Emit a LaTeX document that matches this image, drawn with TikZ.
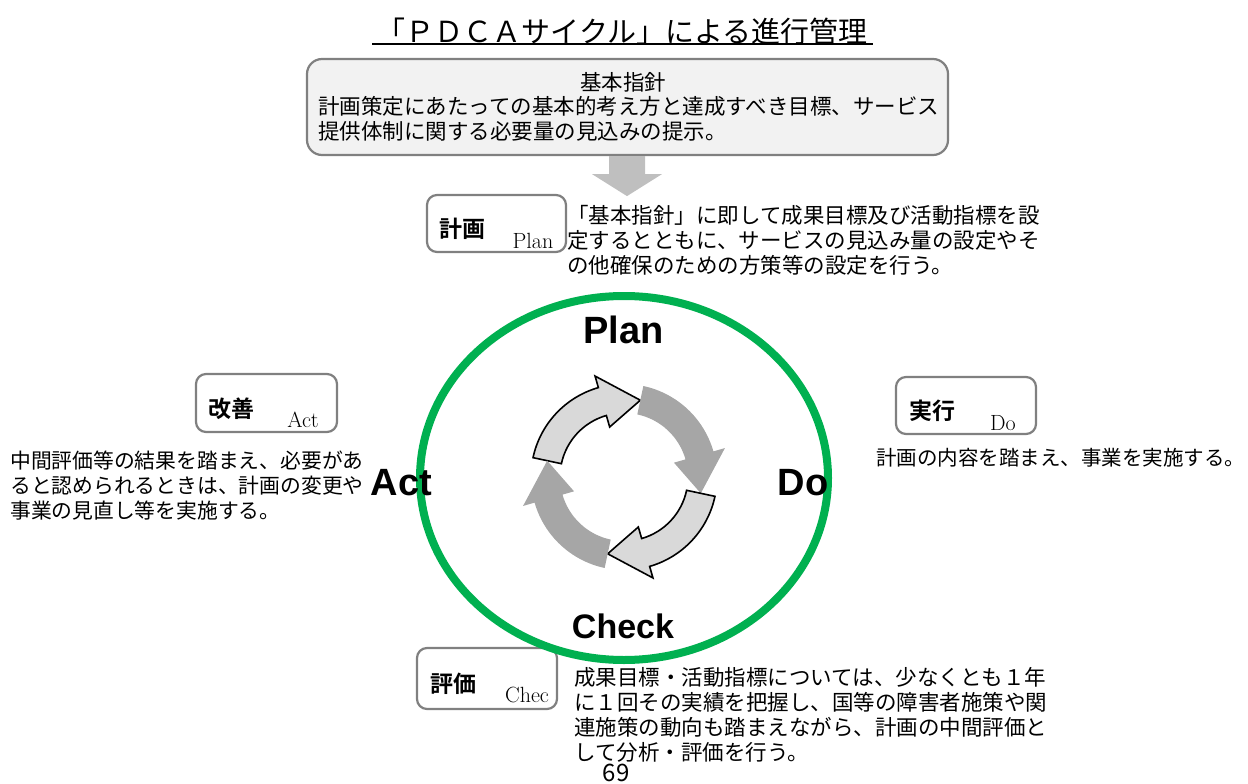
\documentclass[tikz,border=0pt]{standalone}
\usepackage{fontspec}
\newfontfamily\jp{Noto Sans CJK JP}[BoldFont={Noto Sans CJK JP Bold}]
\newfontfamily\lab{Liberation Sans}
\usetikzlibrary{calc}
\definecolor{boxgray}{HTML}{808080}
\definecolor{topfill}{HTML}{F2F2F2}
\definecolor{arrowg}{HTML}{BFBFBF}
\definecolor{lightg}{HTML}{D9D9D9}
\definecolor{darkg}{HTML}{A6A6A6}
\definecolor{pdcagreen}{HTML}{00B050}
\newcommand\cycarrow[2]{%
  \path[#2] ($(cc)+(#1:93pt)$) arc[start angle=#1, end angle={#1-62}, radius=93pt]
    -- ($(cc)+({#1-62}:105pt)$) -- ($(cc)+({#1-90}:78.5pt)$)
    -- ($(cc)+({#1-62}:52pt)$) -- ($(cc)+({#1-62}:64pt)$)
    arc[start angle={#1-62}, end angle=#1, radius=64pt] -- cycle;}
\begin{document}
\begin{tikzpicture}[x=1pt,y=1pt,
  box/.style={draw=boxgray, line width=2.2pt, rounded corners=10pt, fill=white, inner sep=0pt},
  desc/.style={font=\jp\fontsize{21.5}{25}\selectfont, align=left, inner sep=0pt, anchor=north west},
  line/.style={font=\jp\fontsize{21.5}{25}\selectfont, inner sep=0pt},
  big/.style={font=\lab\bfseries\fontsize{38}{38}\selectfont, inner sep=0pt, anchor=base},
  kan/.style={font=\jp\bfseries\fontsize{23}{23}\selectfont, inner sep=0pt},
  en/.style={font=\rmfamily\fontsize{22}{22}\selectfont, inner sep=0pt, anchor=base},
  light/.style={fill=lightg, draw=black, line width=1.6pt, line join=miter},
  dark/.style={fill=darkg}
]
\useasboundingbox (0,0) rectangle (1248,-784);

% title
\node[font=\jp\fontsize{29}{29}\selectfont, inner sep=0pt] (title) at (622,-31) {「ＰＤＣＡサイクル」による進行管理};
\draw[line width=2pt] (372,-44) coordinate (ul1) -- (873,-44) coordinate (ul2);

% top box
\node[box, fill=topfill, rounded corners=15pt, minimum width=641pt, minimum height=96pt] (top) at (627.5,-107) {};
\node[line] (toph) at (623,-82) {基本指針};
\node[desc] (topt) at (318,-96) {計画策定にあたっての基本的考え方と達成すべき目標、サービス\\提供体制に関する必要量の見込みの提示。};

% down arrow
\fill[arrowg] ($(top.south)+(-18.5,0)$) -- ($(top.south)+(17.5,0)$) -- ($(top.south)+(17.5,-18)$)
  -- ($(top.south)+(34.5,-18)$) -- ($(top.south)+(-0.5,-40)$) -- ($(top.south)+(-35.5,-18)$)
  -- ($(top.south)+(-18.5,-18)$) -- cycle;

% plan box
\node[box, minimum width=139pt, minimum height=57pt] (planbox) at (496.5,-223.5) {};
\node[kan] (plank) at (462,-229) {計画};
\node[en] (plane) at (533,-248) {Plan};
\node[desc] (pland) at (567,-205) {「基本指針」に即して成果目標及び活動指標を設\\定するとともに、サービスの見込み量の設定やそ\\の他確保のための方策等の設定を行う。};

% act box
\node[box, minimum width=141pt, minimum height=58pt] (actbox) at (266.5,-403) {};
\node[kan] (actk) at (231,-409) {改善};
\node[en] (acte) at (303,-427) {Act};
\node[desc, font=\jp\fontsize{20.8}{25}\selectfont] (actd) at (10,-451) {中間評価等の結果を踏まえ、必要があ\\ると認められるときは、計画の変更や\\事業の見直し等を実施する。};

% do box
\node[box, minimum width=140pt, minimum height=57pt] (dobox) at (966,-405.5) {};
\node[kan] (dok) at (932,-411) {実行};
\node[en] (doe) at (1003,-430) {Do};
\node[line, anchor=west, font=\jp\fontsize{20.5}{25}\selectfont] (dod) at (876,-458) {計画の内容を踏まえ、事業を実施する。};

% check box
\node[box, minimum width=140pt, minimum height=61pt] (chkbox) at (487,-678.5) {};
\node[kan] (chkk) at (453,-684) {評価};
\node[en] (chke) at (527,-702) {Chec};
\node[desc] (chkd) at (574,-667) {成果目標・活動指標については、少なくとも１年\\に１回その実績を把握し、国等の障害者施策や関\\連施策の動向も踏まえながら、計画の中間評価と\\して分析・評価を行う。};

% cycle
\coordinate (cc) at (624,-477);
\draw[pdcagreen, line width=8pt] (624,-478) ellipse[x radius=204pt, y radius=182pt];
\cycarrow{168}{light}
\cycarrow{78}{dark}
\cycarrow{-12}{light}
\cycarrow{-102}{dark}

\node[big] (lp) at (623.5,-343) {Plan};
\node[big] (la) at (401.5,-495) {Act};
\node[big] (ld) at (803,-495) {Do};
\node[big, font=\lab\bfseries\fontsize{34}{34}\selectfont] (lc) at (623,-638) {Check};

\node[font=\jp\fontsize{24}{24}\selectfont, inner sep=0pt, anchor=base] (pg) at (616,-781) {69};
\end{tikzpicture}
\end{document}
